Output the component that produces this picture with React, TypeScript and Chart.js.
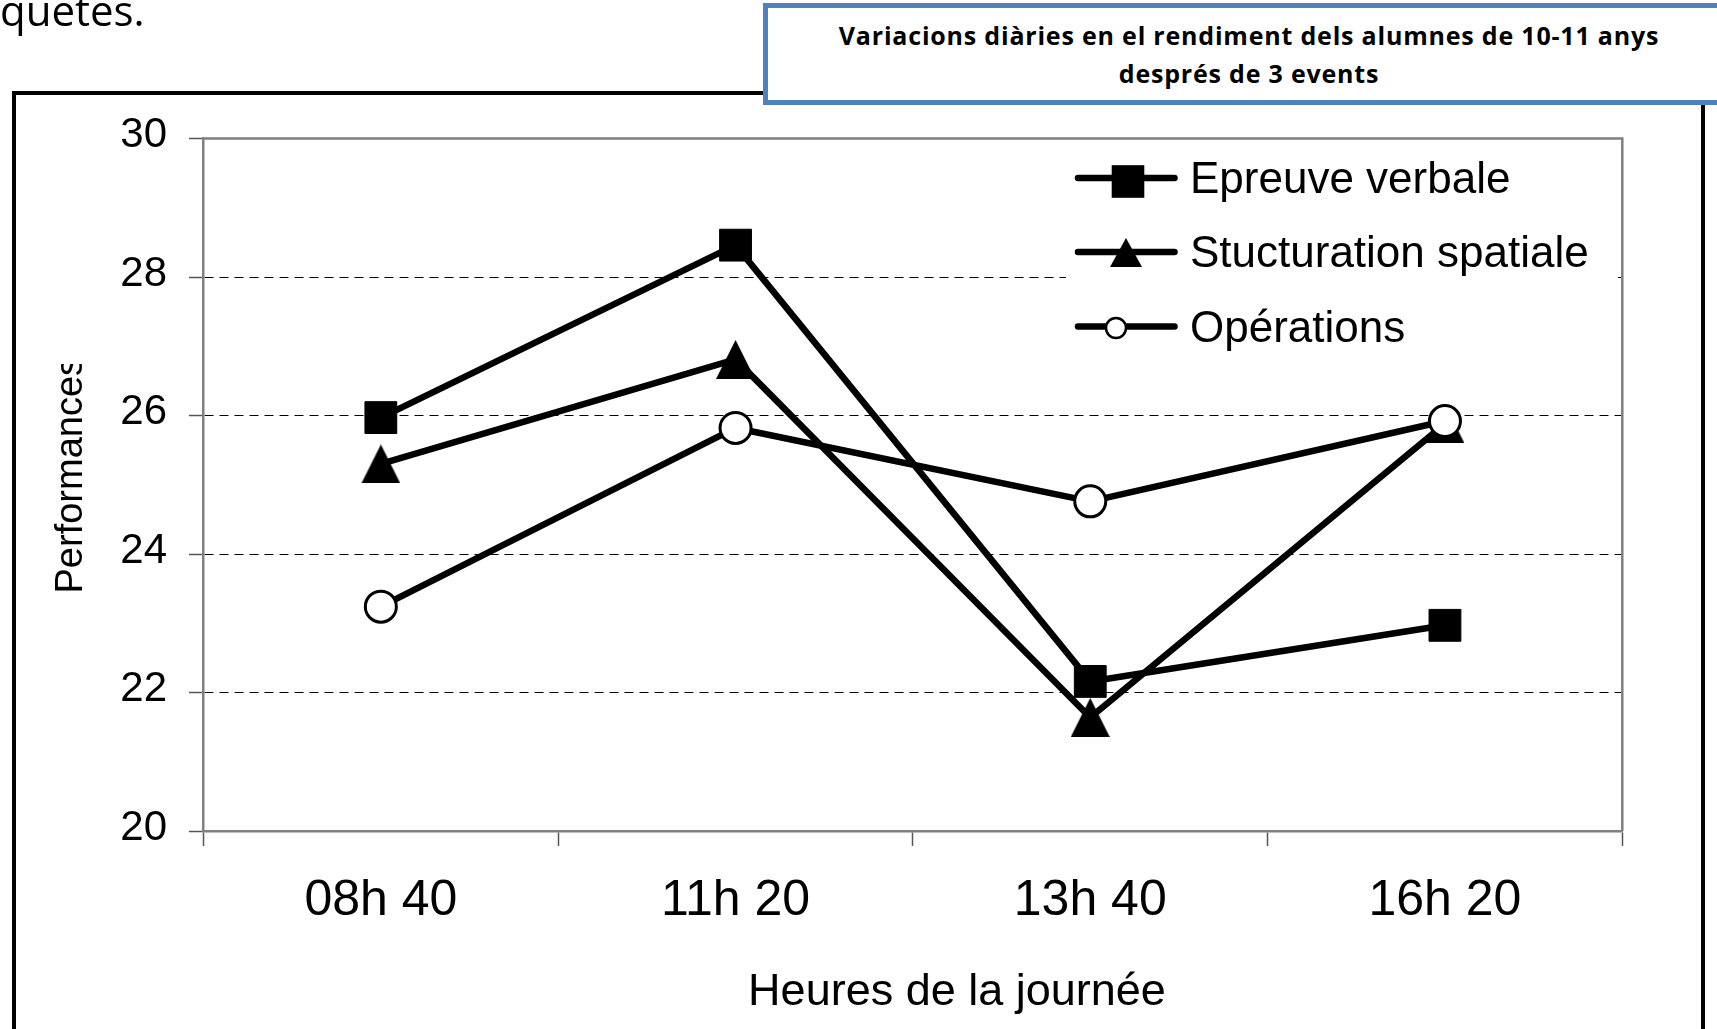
import React, { useEffect, useRef } from 'react';
import { Chart, registerables } from 'chart.js';

Chart.register(...registerables);

// ---- data ----
const categories = ['08h 40', '11h 20', '13h 40', '16h 20'];
const epreuveVerbale = [25.97, 28.46, 22.16, 22.97];
const structurationSpatiale = [25.3, 26.81, 21.64, 25.88];
const operations = [23.24, 25.82, 24.76, 25.92];
const seriesNames = ['Epreuve verbale', 'Stucturation spatiale', 'Opérations'];
const yMin = 20;
const yMax = 30;
const yStep = 2;
const titleLines = ['Variacions diàries en el rendiment dels alumnes de 10-11 anys', 'després de 3 events'];
const xAxisTitle = 'Heures de la journée';
const yAxisTitle = 'Performances';
const pageFragment = 'quetes.';

function makeTriangle(w: number, h: number): HTMLCanvasElement {
  const c = document.createElement('canvas');
  c.width = Math.ceil(w);
  c.height = Math.ceil(h);
  const g = c.getContext('2d')!;
  g.fillStyle = '#000';
  g.beginPath();
  g.moveTo(w / 2, 0);
  g.lineTo(w, h);
  g.lineTo(0, h);
  g.closePath();
  g.fill();
  return c;
}

export default function App() {
  const canvasRef = useRef<HTMLCanvasElement>(null);

  useEffect(() => {
    const canvas = canvasRef.current!;
    const tri = makeTriangle(39, 39);
    const legendTri = makeTriangle(32, 29);

    const framePlugin = {
      id: 'frameAndTexts',
      beforeDatasetsDraw(chart: any) {
        const { ctx, chartArea } = chart;
        ctx.save();
        ctx.strokeStyle = '#808080';
        ctx.lineWidth = 2.5;
        ctx.beginPath();
        ctx.moveTo(chartArea.left, chartArea.top);
        ctx.lineTo(chartArea.right, chartArea.top);
        ctx.lineTo(chartArea.right, chartArea.bottom);
        ctx.stroke();
        ctx.restore();
      },
      afterDatasetsDraw(chart: any) {
        const ctx = chart.ctx;
        ctx.save();
        // legend background
        ctx.fillStyle = '#fff';
        ctx.fillRect(1066, 142, 552, 216);
        const lineY = [178, 252, 326.5];
        const markerX = [1128, 1126, 1116];
        const markerY = [181.5, 252.5, 328];
        const textBase = [193, 267, 342];
        chart.data.datasets.forEach((ds: any, i: number) => {
          ctx.strokeStyle = '#000';
          ctx.lineWidth = 6.5;
          ctx.lineCap = 'round';
          ctx.beginPath();
          ctx.moveTo(1078, lineY[i]);
          ctx.lineTo(1174.5, lineY[i]);
          ctx.stroke();
          if (i === 0) {
            ctx.fillStyle = '#000';
            ctx.fillRect(markerX[i] - 16.3, markerY[i] - 16.3, 32.6, 32.6);
          } else if (i === 1) {
            ctx.drawImage(legendTri, markerX[i] - 16, markerY[i] - 14.5);
          } else {
            ctx.beginPath();
            ctx.arc(markerX[i], markerY[i], 10, 0, Math.PI * 2);
            ctx.fillStyle = '#fff';
            ctx.fill();
            ctx.lineWidth = 2.5;
            ctx.strokeStyle = '#000';
            ctx.stroke();
          }
          ctx.fillStyle = '#000';
          ctx.font = '44px "Liberation Sans", Arial, sans-serif';
          ctx.textAlign = 'left';
          ctx.textBaseline = 'alphabetic';
          ctx.fillText(ds.label, 1190, textBase[i]);
        });
        ctx.restore();
      },
      afterDraw(chart: any) {
        const ctx = chart.ctx;
        ctx.save();
        ctx.fillStyle = '#000';
        // x axis title
        ctx.font = '45px "Liberation Sans", Arial, sans-serif';
        ctx.textAlign = 'center';
        ctx.textBaseline = 'alphabetic';
        ctx.fillText(xAxisTitle, 957, 1005);
        // y axis title (clipped at the top like the reference)
        ctx.beginPath();
        ctx.rect(0, 364, 200, 400);
        ctx.clip();
        ctx.translate(82, 593.5);
        ctx.rotate(-Math.PI / 2);
        ctx.font = '38px "Liberation Sans", Arial, sans-serif';
        ctx.textAlign = 'left';
        ctx.fillText(yAxisTitle, 0, 0);
        ctx.restore();
      },
    };

    const chart = new Chart(canvas, {
      type: 'line',
      data: {
        labels: categories,
        datasets: [
          {
            label: seriesNames[0],
            data: epreuveVerbale,
            borderColor: '#000',
            borderWidth: 6.5,
            borderJoinStyle: 'round',
            pointStyle: 'rect',
            pointRadius: 22.5,
            pointBackgroundColor: '#000',
            pointBorderColor: '#000',
            pointBorderWidth: 1,
            tension: 0,
            order: 3,
          },
          {
            label: seriesNames[1],
            data: structurationSpatiale,
            borderColor: '#000',
            borderWidth: 6.5,
            borderJoinStyle: 'round',
            pointStyle: tri as any,
            pointRadius: 20,
            pointBackgroundColor: '#000',
            pointBorderColor: '#000',
            tension: 0,
            order: 2,
          },
          {
            label: seriesNames[2],
            data: operations,
            borderColor: '#000',
            borderWidth: 6.5,
            borderJoinStyle: 'round',
            pointStyle: 'circle',
            pointRadius: 15.5,
            pointBackgroundColor: '#fff',
            pointBorderColor: '#000',
            pointBorderWidth: 3,
            tension: 0,
            order: 1,
          },
        ],
      },
      options: {
        responsive: false,
        maintainAspectRatio: false,
        animation: false,
        devicePixelRatio: 1,
        layout: { padding: { left: 0, top: 138.5, right: 94.7, bottom: 0 } },
        plugins: {
          legend: { display: false },
          tooltip: { enabled: false },
          title: { display: false },
        },
        scales: {
          x: {
            type: 'category',
            offset: true,
            grid: {
              offset: true,
              drawOnChartArea: false,
              drawTicks: true,
              tickLength: 15,
              tickColor: '#555',
              tickWidth: 1.5,
            },
            border: { display: true, color: '#808080', width: 2.5 },
            ticks: {
              color: '#000',
              padding: 25,
              font: { family: '"Liberation Sans", Arial, sans-serif', size: 50 },
              maxRotation: 0,
              autoSkip: false,
            },
            afterFit: (scale: any) => {
              scale.height = 198;
            },
          },
          y: {
            min: yMin,
            max: yMax,
            grid: {
              color: '#000',
              lineWidth: 1,
              drawTicks: true,
              tickLength: 14.5,
              tickColor: '#555',
              tickWidth: 1.5,
            },
            border: { display: true, color: '#808080', width: 2.5, dash: [9, 6] },
            ticks: {
              stepSize: yStep,
              color: '#000',
              padding: 22,
              labelOffset: -3,
              font: { family: '"Liberation Sans", Arial, sans-serif', size: 42 },
            },
            afterFit: (scale: any) => {
              scale.width = 203.5;
            },
          },
        },
      },
      plugins: [framePlugin],
    } as any);

    return () => {
      chart.destroy();
    };
  }, []);

  return (
    <div
      style={{
        position: 'fixed',
        left: 0,
        top: 0,
        width: 1717,
        height: 1029,
        overflow: 'hidden',
        background: '#fff',
      }}
    >
      <div
        style={{
          position: 'absolute',
          left: 12,
          top: 91,
          width: 1693,
          height: 1100,
          boxSizing: 'border-box',
          border: '4px solid #000',
        }}
      />
      <canvas
        ref={canvasRef}
        width={1717}
        height={1029}
        style={{ position: 'absolute', left: 0, top: 0, width: 1717, height: 1029 }}
      />
      <div
        style={{
          position: 'absolute',
          left: 763,
          top: 3,
          width: 972,
          height: 102,
          boxSizing: 'border-box',
          border: '5px solid #4F81BD',
          background: '#fff',
          textAlign: 'center',
          fontFamily: '"Open Sans", sans-serif',
          fontWeight: 700,
          fontSize: 25,
          letterSpacing: '0.8px',
          lineHeight: '37.5px',
          paddingTop: 9,
          color: '#000',
          whiteSpace: 'nowrap',
        }}
      >
        {titleLines.map((l, i) => (
          <div key={i}>{l}</div>
        ))}
      </div>
      <div
        style={{
          position: 'absolute',
          left: 0,
          top: -10,
          fontFamily: '"Open Sans", sans-serif',
          fontSize: 42,
          lineHeight: '40px',
          color: '#000',
          whiteSpace: 'nowrap',
        }}
      >
        {pageFragment}
      </div>
    </div>
  );
}
